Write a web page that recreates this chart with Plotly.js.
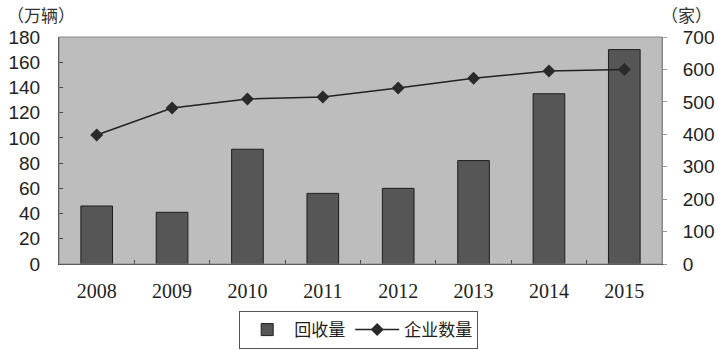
<!DOCTYPE html>
<html>
<head>
<meta charset="utf-8">
<script src="https://cdn.plot.ly/plotly-3.0.1.min.js"></script>
<style>html,body{margin:0;padding:0;background:#fff;}#chart{width:718px;height:350px;}</style>
</head>
<body>
<div id="chart"></div>
<script>
const years = ["2008","2009","2010","2011","2012","2013","2014","2015"];
const recycleVolume = [46, 41, 91, 56, 60, 82, 135, 170];   // 回收量 (万辆)
const companyCount = [398, 481, 509, 515, 543, 573, 595, 600]; // 企业数量 (家)
const leftTicks = [0,20,40,60,80,100,120,140,160,180];
const rightTicks = [0,100,200,300,400,500,600,700];

const traces = [
  {
    type: 'bar', name: '回收量', x: years, y: recycleVolume,
    marker: {color: '#565656', line: {color: '#1e1e1e', width: 1}},
    width: 0.42, yaxis: 'y'
  },
  {
    type: 'scatter', mode: 'lines+markers', name: '企业数量', x: years, y: companyCount,
    line: {color: '#222', width: 1.5},
    marker: {symbol: 'diamond', size: 10, color: '#2a2a2a'},
    yaxis: 'y2'
  }
];

const layout = {
  width: 718, height: 350,
  margin: {l: 59, r: 56, t: 37, b: 86, autoexpand: false},
  paper_bgcolor: '#ffffff',
  plot_bgcolor: '#bdbdbd',
  showlegend: true,
  xaxis: {
    type: 'category', tickson: 'boundaries', ticks: 'inside', ticklen: 4, tickcolor: '#444',
    showline: true, linecolor: '#333', linewidth: 1, showgrid: false, automargin: false,
    tickfont: {family: 'Liberation Serif, serif', size: 20, color: '#222'},
    ticklabelstandoff: 9
  },
  yaxis: {
    range: [0, 180], tickvals: leftTicks, ticktext: leftTicks.map(String),
    ticks: 'inside', ticklen: 4, tickcolor: '#444', automargin: false,
    showline: true, linecolor: '#333', linewidth: 1, showgrid: false, zeroline: false,
    tickfont: {family: 'Liberation Sans, Arial, sans-serif', size: 19, color: '#222'},
    ticklabelstandoff: 14
  },
  yaxis2: {
    range: [0, 700], tickvals: rightTicks, ticktext: rightTicks.map(String),
    overlaying: 'y', side: 'right', automargin: false,
    ticks: 'outside', ticklen: 4, tickcolor: '#999',
    showline: true, linecolor: '#888', linewidth: 1, showgrid: false, zeroline: false,
    tickfont: {family: 'Liberation Sans, Arial, sans-serif', size: 19, color: '#222'},
    ticklabelstandoff: 12
  },
  legend: {
    orientation: 'h', x: 0.497, xanchor: 'center', y: -0.291, yanchor: 'middle',
    bordercolor: '#555', borderwidth: 1, bgcolor: '#ffffff',
    font: {family: 'Noto Sans CJK SC, sans-serif', size: 17, color: '#222'},
    itemwidth: 44, tracegroupgap: 0, valign: 'middle'
  },
  shapes: [
    {type: 'rect', xref: 'paper', yref: 'paper', x0: 0, x1: 1, y0: 0, y1: 1,
     line: {color: '#888', width: 1}, fillcolor: 'rgba(0,0,0,0)', layer: 'above'}
  ],
  annotations: [
    {text: '（万辆）', xref: 'paper', yref: 'paper', x: -0.09, xanchor: 'left', y: 1.1, yanchor: 'middle',
     showarrow: false, font: {family: 'Noto Sans CJK SC, sans-serif', size: 17, color: '#333'}},
    {text: '（家）', xref: 'paper', yref: 'paper', x: 0.995, xanchor: 'left', y: 1.1, yanchor: 'middle',
     showarrow: false, font: {family: 'Noto Sans CJK SC, sans-serif', size: 17, color: '#333'}}
  ]
};

Plotly.newPlot('chart', traces, layout, {displayModeBar: false, staticPlot: true});
</script>
</body>
</html>
